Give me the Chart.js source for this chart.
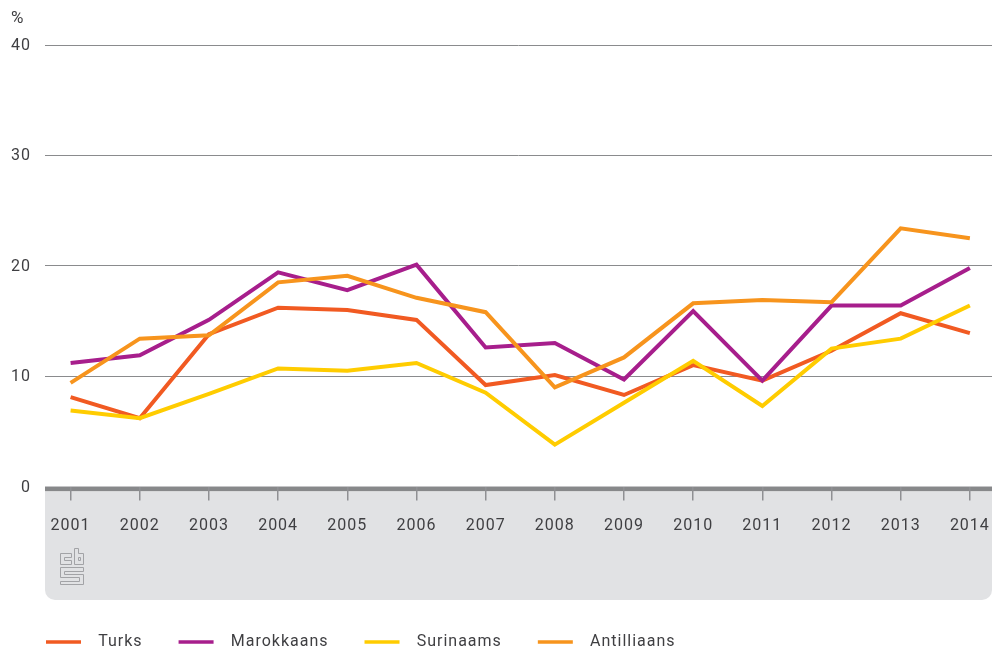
<!DOCTYPE html>
<html>
<head>
<meta charset="utf-8">
<style>
  html, body { margin: 0; padding: 0; background: #fff; }
  #chart { display: block; }
</style>
<script src="https://cdn.jsdelivr.net/npm/chart.js@4/dist/chart.umd.min.js"></script>
</head>
<body>
<canvas id="chart" width="992" height="650"></canvas>
<script>
const years = [2001, 2002, 2003, 2004, 2005, 2006, 2007, 2008, 2009, 2010, 2011, 2012, 2013, 2014];
const yTicks = [0, 10, 20, 30, 40];
const turks = [8.1, 6.2, 13.8, 16.2, 16.0, 15.1, 9.2, 10.1, 8.3, 11.0, 9.6, 12.3, 15.7, 13.9];
const marokkaans = [11.2, 11.9, 15.1, 19.4, 17.8, 20.1, 12.6, 13.0, 9.7, 15.9, 9.6, 16.4, 16.4, 19.8];
const surinaams = [6.9, 6.2, 8.4, 10.7, 10.5, 11.2, 8.5, 3.8, 7.6, 11.4, 7.3, 12.5, 13.4, 16.4];
const antilliaans = [9.4, 13.4, 13.7, 18.5, 19.1, 17.1, 15.8, 9.0, 11.7, 16.6, 16.9, 16.7, 23.4, 22.5];

const fontFamily = 'Roboto, sans-serif';
const textColor = '#3f3f42';
const spacing = '1px';

function line(label, values, color, order) {
    return {
        label,
        data: values.map((v, i) => ({ x: years[i], y: v })),
        borderColor: color,
        backgroundColor: color,
        borderWidth: 4,
        pointRadius: 0,
        tension: 0,
        order
    };
}

// Grey band under the axis, thick zero line, cbs logo and the % label
const backdrop = {
    id: 'backdrop',
    beforeUpdate(chart) {
        chart.ctx.letterSpacing = spacing;
    },
    afterLayout(chart) {
        // legend sits lower and further right than the default bottom placement
        chart.legend.left = 10;
        chart.legend.top = 598;
    },
    beforeDraw(chart) {
        const { ctx, chartArea, scales } = chart;
        const y0 = scales.y.getPixelForValue(0);
        ctx.save();
        ctx.fillStyle = '#e1e2e4';
        ctx.beginPath();
        ctx.roundRect(chartArea.left, y0, chartArea.right - chartArea.left, 600 - y0, [0, 0, 10, 10]);
        ctx.fill();
        ctx.fillStyle = '#87888a';
        ctx.fillRect(chartArea.left, y0, chartArea.right - chartArea.left, 4.5);

        ctx.strokeStyle = '#a2a3a6';
        ctx.lineWidth = 1;
        ctx.beginPath();
        // c
        ctx.moveTo(71.5, 553.5); ctx.lineTo(60.5, 553.5); ctx.lineTo(60.5, 564.5); ctx.lineTo(71.5, 564.5);
        ctx.lineTo(71.5, 560.5); ctx.lineTo(64.5, 560.5); ctx.lineTo(64.5, 557.5); ctx.lineTo(71.5, 557.5); ctx.closePath();
        // b
        ctx.moveTo(74.5, 548.5); ctx.lineTo(78.5, 548.5); ctx.lineTo(78.5, 553.5); ctx.lineTo(83.5, 553.5);
        ctx.lineTo(83.5, 564.5); ctx.lineTo(74.5, 564.5); ctx.closePath();
        ctx.rect(78.5, 557.5, 2, 3);
        // s
        ctx.moveTo(83.5, 567.5); ctx.lineTo(60.5, 567.5); ctx.lineTo(60.5, 577.5); ctx.lineTo(79.5, 577.5);
        ctx.lineTo(79.5, 581.5); ctx.lineTo(60.5, 581.5); ctx.lineTo(60.5, 584.5); ctx.lineTo(83.5, 584.5);
        ctx.lineTo(83.5, 574.5); ctx.lineTo(64.5, 574.5); ctx.lineTo(64.5, 571.5); ctx.lineTo(83.5, 571.5); ctx.closePath();
        ctx.stroke();

        ctx.fillStyle = textColor;
        ctx.font = '17px ' + fontFamily;
        ctx.textAlign = 'left';
        ctx.textBaseline = 'middle';
        ctx.fillText('%', 11, 19);
        ctx.restore();
    }
};

new Chart(document.getElementById('chart'), {
    type: 'line',
    data: {
        datasets: [
            line('Turks', turks, '#f15a22', 3),
            line('Marokkaans', marokkaans, '#a71e8c', 2),
            line('Surinaams', surinaams, '#ffcc00', 1),
            line('Antilliaans', antilliaans, '#f7941d', 0)
        ]
    },
    plugins: [backdrop],
    options: {
        responsive: false,
        animation: false,
        layout: { padding: { top: 45, right: 0, bottom: 0, left: 0 } },
        plugins: {
            tooltip: { enabled: false },
            title: { display: false },
            legend: {
                position: 'bottom',
                align: 'start',
                labels: {
                    boxWidth: 35,
                    boxHeight: 3.5,
                    padding: 36,
                    color: textColor,
                    font: { family: fontFamily, size: 16 },
                    sort: (a, b) => a.datasetIndex - b.datasetIndex,
                    generateLabels(chart) {
                        // wider gap between the line and its text
                        return Chart.defaults.plugins.legend.labels.generateLabels(chart).map(item => {
                            item.text = '\u2002' + item.text;
                            item.lineWidth = 0;
                            return item;
                        });
                    }
                }
            }
        },
        scales: {
            x: {
                type: 'linear',
                min: 2000.63,
                max: 2014.32,
                afterBuildTicks(axis) {
                    axis.ticks = years.map(v => ({ value: v }));
                },
                afterFit(axis) {
                    axis.height = 101.4;
                    axis.paddingLeft = 0;
                    axis.paddingRight = 0;
                },
                border: { display: false },
                grid: { drawOnChartArea: false, color: '#8f9093', lineWidth: 1.5, tickLength: 14 },
                ticks: {
                    autoSkip: false,
                    maxRotation: 0,
                    padding: 16,
                    color: textColor,
                    font: { family: fontFamily, size: 16 },
                    callback: v => String(v)
                }
            },
            y: {
                min: 0,
                max: 40,
                afterBuildTicks(axis) {
                    axis.ticks = yTicks.map(v => ({ value: v }));
                },
                afterFit(axis) {
                    axis.width = 45;
                },
                border: { display: false },
                grid: {
                    drawTicks: false,
                    color: ctx => ctx.tick.value === 0 ? 'rgba(0,0,0,0)' : '#8a8b8d',
                    lineWidth: 1
                },
                ticks: {
                    padding: 14,
                    labelOffset: 1,
                    color: textColor,
                    font: { family: fontFamily, size: 16 }
                }
            }
        }
    }
});
</script>
</body>
</html>
